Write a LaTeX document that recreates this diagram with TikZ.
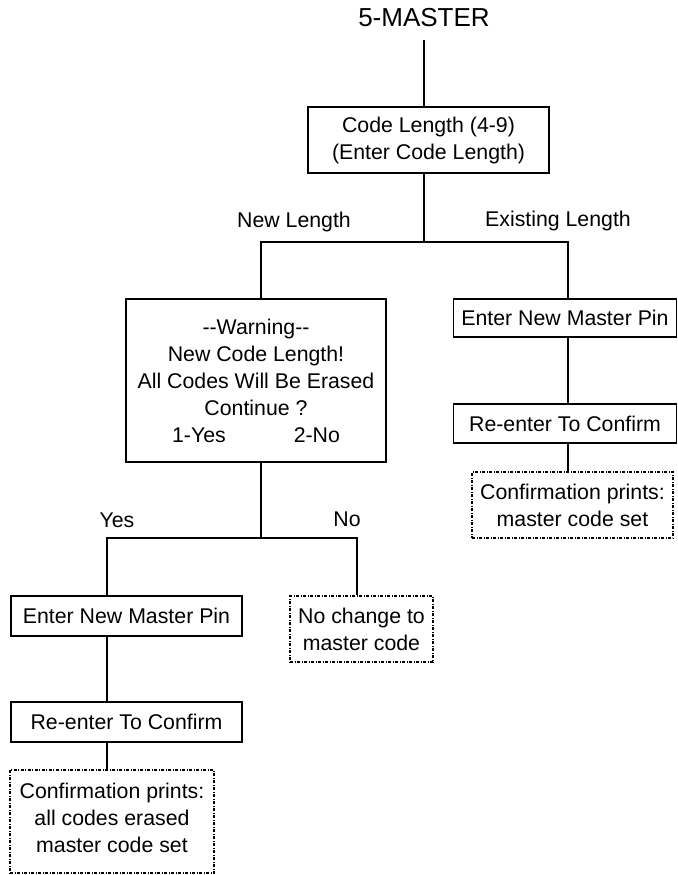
\documentclass[tikz,border=0pt]{standalone}
\usepackage{fontspec}
\setmainfont{Liberation Sans}
\begin{document}
\begin{tikzpicture}[x=1pt,y=-1pt,
  txt/.style={font=\fontsize{21.3}{27}\selectfont, align=center, inner sep=0pt},
  solidbox/.style={txt, draw, line width=1.6pt, rectangle},
  dotbox/.style={txt, draw, line width=1.3pt, rectangle, dash pattern=on 3pt off 1.5pt on 1pt off 1.5pt},
  conn/.style={line width=1.8pt}]
\useasboundingbox (0,0) rectangle (677,875);
% title
\node[txt, font=\fontsize{26}{30}\selectfont] (title) at (424,18) {5-MASTER};
\coordinate (t1) at (424,40);
% boxes
\node[solidbox, minimum width=241pt, minimum height=66pt] (code) at (428.5,140) {Code Length (4-9)\\(Enter Code Length)};
\node[solidbox, minimum width=260pt, minimum height=163pt] (warn) at (256,380.5) {-{}-Warning-{}-\\New Code Length!\\All Codes Will Be Erased\\Continue ?\\1-Yes\hspace{68pt}2-No};
\node[solidbox, minimum width=223pt, minimum height=38pt] (pinR) at (565,318) {Enter New Master Pin};
\node[solidbox, minimum width=223pt, minimum height=39pt] (reR) at (565,423.5) {Re-enter To Confirm};
\node[dotbox, minimum width=201pt, minimum height=66pt] (confR) at (572.5,505) {Confirmation prints:\\master code set};
\node[solidbox, minimum width=231pt, minimum height=40pt] (pinL) at (126.5,616) {Enter New Master Pin};
\node[solidbox, minimum width=231pt, minimum height=40pt] (reL) at (126.5,722) {Re-enter To Confirm};
\node[dotbox, minimum width=204pt, minimum height=103pt] (confL) at (112,821.5) {Confirmation prints:\\all codes erased\\master code set\\[-19pt]};
\node[dotbox, minimum width=143pt, minimum height=66pt] (noch) at (361.5,629) {No change to\\master code};
% labels
\node[txt] (lnew) at (294,222) {New Length};
\node[txt] (lexist) at (558,221) {Existing Length};
\node[txt] (lyes) at (117,520) {Yes};
\node[txt] (lno) at (347,519) {No};
% junction coordinates
\coordinate (jc) at (424,242);
\coordinate (jl) at (261,242);
\coordinate (jr) at (568,242);
\coordinate (kc) at (261,538);
\coordinate (kl) at (107,538);
\coordinate (kr) at (357,538);
% connectors
\draw[conn] (t1) -- (t1 |- code.north);
\draw[conn] (code.south -| jc) -- (jc);
\draw[conn] (warn.north -| jl) -- (jl) -- (jr) -- (jr |- pinR.north);
\draw[conn] (pinR.south -| jr) -- (reR.north -| jr);
\draw[conn] (reR.south -| jr) -- (confR.north -| jr);
\draw[conn] (warn.south -| kc) -- (kc);
\draw[conn] (pinL.north -| kl) -- (kl) -- (kr) -- (noch.north -| kr);
\draw[conn] (pinL.south -| kl) -- (reL.north -| kl);
\draw[conn] (reL.south -| kl) -- (confL.north -| kl);
\end{tikzpicture}
\end{document}
